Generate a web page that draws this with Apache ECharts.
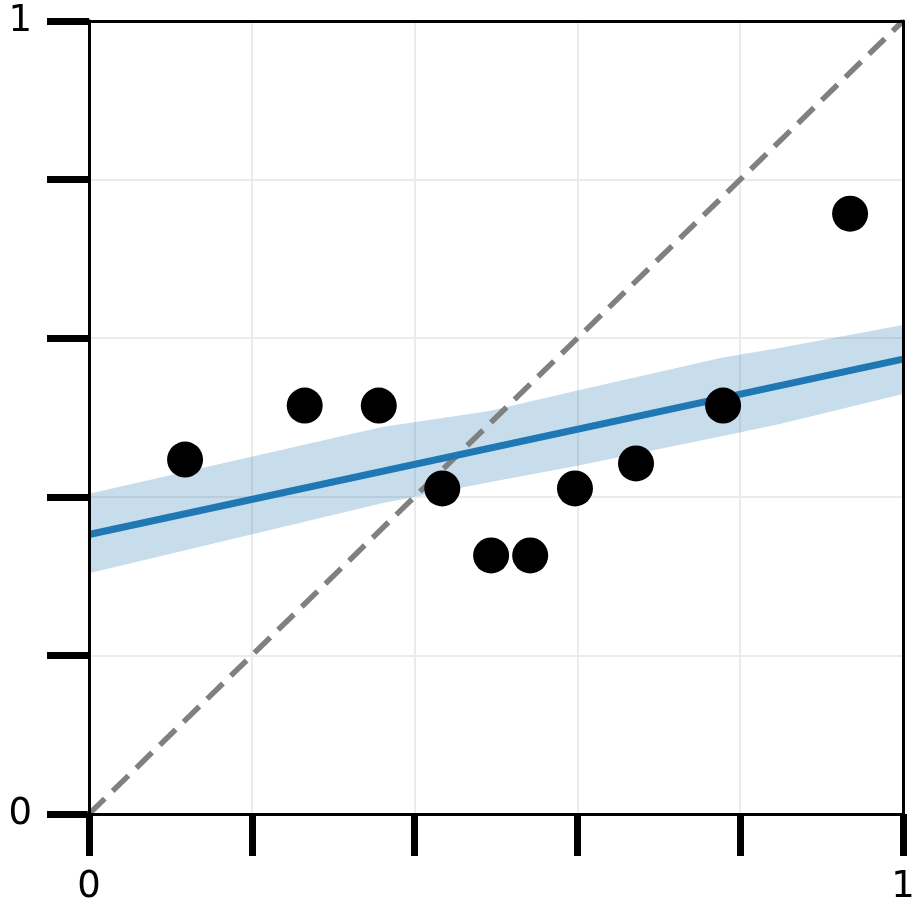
<!DOCTYPE html>
<html>
<head>
<meta charset="utf-8">
<script src="https://cdn.jsdelivr.net/npm/echarts@6/dist/echarts.min.js"></script>
<style>
html,body{margin:0;padding:0;background:#fff;}
#chart{width:921px;height:916px;}
</style>
</head>
<body>
<div id="chart"></div>
<script>
// Scatter points
const pointsX = [0.118, 0.265, 0.356, 0.434, 0.494, 0.542, 0.597, 0.672, 0.779, 0.935];
const pointsY = [0.447, 0.515, 0.515, 0.4105, 0.326, 0.326, 0.4105, 0.442, 0.515, 0.757];
// Regression line
const lineX = [0, 1];
const lineY = [0.3525, 0.5736];
// Confidence band
const bandX = [0, 0.36, 0.49, 0.60, 0.78, 0.85, 1];
const bandUpper = [0.404, 0.488, 0.508, 0.534, 0.576, 0.588, 0.6165];
const bandLower = [0.3036, 0.392, 0.418, 0.439, 0.477, 0.492, 0.5295];
// Identity line
const diagX = [0, 1];
const diagY = [0, 1];
// Tick labels
const tickLabels = {0: '0', 1: '1'};

const chart = echarts.init(document.getElementById('chart'), null, {renderer: 'canvas'});

const labelFmt = v => (tickLabels[v] !== undefined ? tickLabels[v] : '');

const axisCommon = {
  type: 'value', min: 0, max: 1, interval: 0.2,
  axisLine: {show: true, lineStyle: {color: '#000', width: 3}},
  axisTick: {show: true, inside: false, length: 42, lineStyle: {color: '#000', width: 7}},
  splitLine: {show: true, lineStyle: {color: '#ebebeb', width: 2}},
  axisLabel: {formatter: labelFmt, color: '#000', fontSize: 37, fontFamily: 'DejaVu Sans', showMinLabel: true, showMaxLabel: true},
  z: 0
};
const frameAxis = {
  type: 'value', min: 0, max: 1, interval: 0.2,
  axisLine: {show: true, onZero: false, lineStyle: {color: '#000', width: 3}},
  axisTick: {show: false}, splitLine: {show: false}, axisLabel: {show: false},
  z: 5
};

const option = {
  animation: false,
  backgroundColor: '#fff',
  grid: {left: 89, top: 21, width: 814, height: 793, show: false},
  xAxis: [
    Object.assign({}, axisCommon, {position: 'bottom', axisLabel: Object.assign({}, axisCommon.axisLabel, {margin: 55})}),
    Object.assign({}, frameAxis, {position: 'top'}),
    Object.assign({}, frameAxis, {position: 'bottom'})
  ],
  yAxis: [
    Object.assign({}, axisCommon, {position: 'left', axisLabel: Object.assign({}, axisCommon.axisLabel, {margin: 57})}),
    Object.assign({}, frameAxis, {position: 'right'}),
    Object.assign({}, frameAxis, {position: 'left'})
  ],
  series: [
    {
      type: 'custom',
      z: 1,
      data: [0],
      renderItem: function (params, api) {
        const pts = [];
        for (let i = 0; i < bandX.length; i++) pts.push(api.coord([bandX[i], bandUpper[i]]));
        for (let i = bandX.length - 1; i >= 0; i--) pts.push(api.coord([bandX[i], bandLower[i]]));
        return {type: 'polygon', shape: {points: pts}, style: {fill: 'rgba(31,119,180,0.25)'}};
      },
      silent: true
    },
    {
      type: 'line', z: 2, symbol: 'none',
      data: diagX.map((x, i) => [x, diagY[i]]),
      lineStyle: {color: '#808080', width: 5.5, type: [22, 11]}
    },
    {
      type: 'line', z: 3, symbol: 'none',
      data: lineX.map((x, i) => [x, lineY[i]]),
      lineStyle: {color: '#1f77b4', width: 7}
    },
    {
      type: 'scatter', z: 4, symbolSize: 36,
      data: pointsX.map((x, i) => [x, pointsY[i]]),
      itemStyle: {color: '#000', opacity: 1}
    }
  ]
};
chart.setOption(option);
</script>
</body>
</html>
